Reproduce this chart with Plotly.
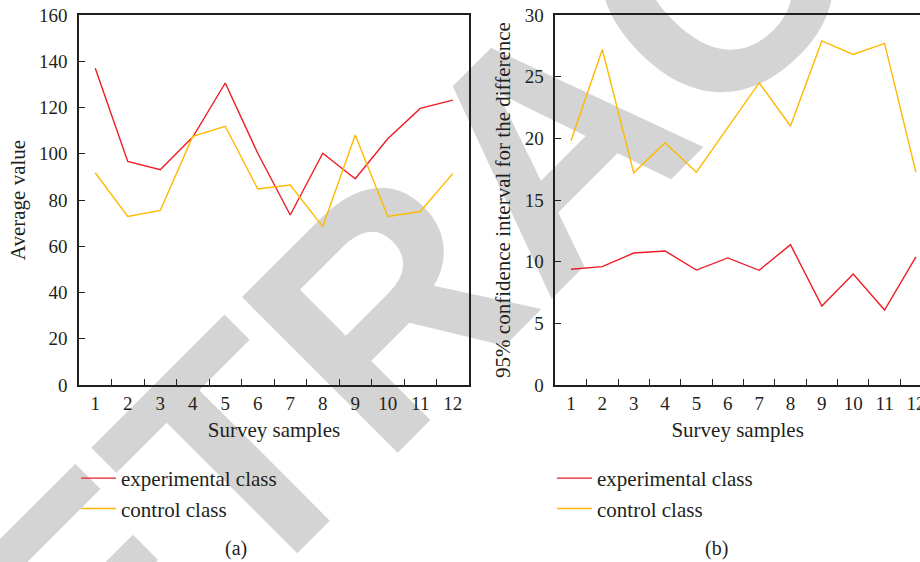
import plotly.graph_objects as go

# Survey samples (category labels on both x axes)
samples = [str(i) for i in range(1, 12 + 1)]

# (a) average value per survey sample
avg_experimental = [137.0, 96.7, 93.1, 107.2, 130.6, 100.2, 73.5, 100.2, 89.2, 106.5, 119.6, 123.2]
avg_control = [91.8, 72.9, 75.5, 107.5, 111.9, 84.8, 86.5, 68.5, 108.1, 72.9, 75.0, 91.4]

# (b) 95% confidence interval for the difference
ci_experimental = [9.38, 9.6, 10.7, 10.87, 9.32, 10.3, 9.3, 11.38, 6.4, 9.0, 6.08, 10.38]
ci_control = [19.8, 27.2, 17.2, 19.65, 17.25, 20.9, 24.5, 21.0, 27.9, 26.8, 27.7, 17.25]

W, H = 920, 562
RED = "#ee1c25"
YELLOW = "#ffb900"
INK = "#231f20"
SERIF = "Liberation Serif"

fig = go.Figure()

fig.add_trace(go.Scatter(x=samples, y=avg_experimental, mode="lines", name="experimental class",
                         line=dict(color=RED, width=1.4), xaxis="x", yaxis="y", legend="legend"))
fig.add_trace(go.Scatter(x=samples, y=avg_control, mode="lines", name="control class",
                         line=dict(color=YELLOW, width=1.4), xaxis="x", yaxis="y", legend="legend"))
fig.add_trace(go.Scatter(x=samples, y=ci_experimental, mode="lines", name="experimental class",
                         line=dict(color=RED, width=1.4), xaxis="x2", yaxis="y2", legend="legend2"))
fig.add_trace(go.Scatter(x=samples, y=ci_control, mode="lines", name="control class",
                         line=dict(color=YELLOW, width=1.4), xaxis="x2", yaxis="y2", legend="legend2"))

tick_font = dict(family=SERIF, size=19, color=INK)
title_font = dict(family=SERIF, size=21, color=INK)
legend_font = dict(family=SERIF, size=21, color=INK)

xcommon = dict(type="category", showgrid=False, zeroline=False, showline=True, linecolor=INK,
               linewidth=1.5, ticks="inside", ticklen=6, tickwidth=1.3, tickcolor=INK,
               tickson="boundaries", tickfont=tick_font, ticklabelstandoff=0, automargin=False)
ycommon = dict(showgrid=False, zeroline=False, showline=True, linecolor=INK, linewidth=1.5,
               ticks="inside", ticklen=6, tickwidth=1.3, tickcolor=INK, tickfont=tick_font,
               ticklabelstandoff=6, automargin=False)

ydom = [177 / H, 547 / H]

fig.update_layout(
    width=W, height=H,
    margin=dict(l=0, r=0, t=0, b=0, autoexpand=False),
    paper_bgcolor="white",
    plot_bgcolor="rgba(0,0,0,0)",
    font=dict(family=SERIF, color=INK),
    xaxis=dict(xcommon, domain=[79 / W, 469 / W], range=[-0.5, 11.5], mirror=True, anchor="y",
               title=dict(text="Survey samples", font=title_font, standoff=10)),
    yaxis=dict(ycommon, domain=ydom, range=[0, 160], dtick=20, mirror=True, anchor="x",
               title=dict(text="Average value", font=title_font, standoff=8)),
    xaxis2=dict(xcommon, domain=[555.3 / W, 1.0], range=[-0.5, 11.13], mirror=True, anchor="y2",
                title=dict(text="Survey samples", font=title_font, standoff=10)),
    yaxis2=dict(ycommon, domain=ydom, range=[0, 30], dtick=5, mirror=False, anchor="x2",
                title=dict(text="95% confidence interval for the difference", font=title_font,
                           standoff=8)),
    legend=dict(x=76 / W, xanchor="left", y=1 - 458 / H, yanchor="top",
                bgcolor="rgba(0,0,0,0)", font=legend_font, itemwidth=35, tracegroupgap=0),
    legend2=dict(x=552 / W, xanchor="left", y=1 - 458 / H, yanchor="top",
                 bgcolor="rgba(0,0,0,0)", font=legend_font, itemwidth=35, tracegroupgap=0),
    annotations=[
        dict(text="(a)", x=236 / W, y=1 - 548 / H, xref="paper", yref="paper", showarrow=False,
             xanchor="center", yanchor="middle", font=dict(family=SERIF, size=20, color=INK)),
        dict(text="(b)", x=716 / W, y=1 - 548 / H, xref="paper", yref="paper", showarrow=False,
             xanchor="center", yanchor="middle", font=dict(family=SERIF, size=20, color=INK)),
    ],
    shapes=[
        dict(type="rect", xref="paper", yref="paper", layer="below",
             x0=528 / W - 0.001, x1=528 / W + 0.001, y0=1 - 123 / H - 0.001, y1=1 - 123 / H + 0.001,
             line=dict(width=0), fillcolor="rgba(0,0,0,0)",
             label=dict(text="<b>RETRACTED</b>", textangle=-45, textposition="middle center",
                        font=dict(family="Liberation Sans", size=320, color="#d4d4d4"))),
    ],
)

fig.write_html("out.html")
